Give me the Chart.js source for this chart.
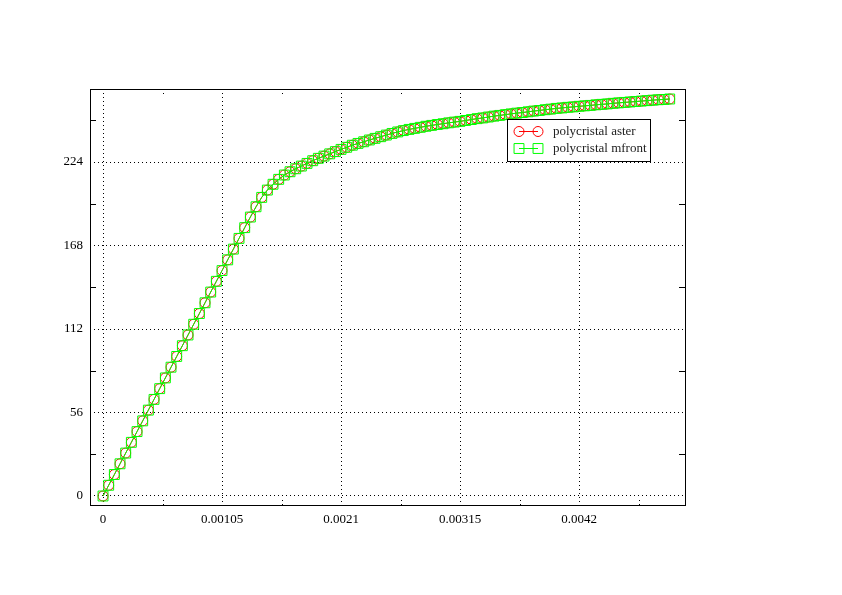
<!DOCTYPE html>
<html>
<head>
<meta charset="utf-8">
<script src="https://cdn.jsdelivr.net/npm/chart.js@4"></script>
<style>
  html, body { margin: 0; padding: 0; background: #ffffff; }
  #wrap { width: 842px; height: 595px; }
</style>
</head>
<body>
<div id="wrap"><canvas id="grafico" width="842" height="595"></canvas></div>
<script>
const strain = [
    0, 0.00005, 0.0001, 0.00015, 0.0002, 0.00025, 0.0003, 0.00035, 0.0004, 0.00045,
    0.0005, 0.00055, 0.0006, 0.00065, 0.0007, 0.00075, 0.0008, 0.00085, 0.0009, 0.00095,
    0.001, 0.00105, 0.0011, 0.00115, 0.0012, 0.00125, 0.0013, 0.00135, 0.0014, 0.00145,
    0.0015, 0.00155, 0.0016, 0.00165, 0.0017, 0.00175, 0.0018, 0.00185, 0.0019, 0.00195,
    0.002, 0.00205, 0.0021, 0.00215, 0.0022, 0.00225, 0.0023, 0.00235, 0.0024, 0.00245,
    0.0025, 0.00255, 0.0026, 0.00265, 0.0027, 0.00275, 0.0028, 0.00285, 0.0029, 0.00295,
    0.003, 0.00305, 0.0031, 0.00315, 0.0032, 0.00325, 0.0033, 0.00335, 0.0034, 0.00345,
    0.0035, 0.00355, 0.0036, 0.00365, 0.0037, 0.00375, 0.0038, 0.00385, 0.0039, 0.00395,
    0.004, 0.00405, 0.0041, 0.00415, 0.0042, 0.00425, 0.0043, 0.00435, 0.0044, 0.00445,
    0.0045, 0.00455, 0.0046, 0.00465, 0.0047, 0.00475, 0.0048, 0.00485, 0.0049, 0.00495,
    0.005
];

const stressAster = [
    0, 7.2, 14.4, 21.6, 28.8, 36.0, 43.2, 50.4, 57.6, 64.8,
    72.0, 79.2, 86.4, 93.6, 100.8, 108.0, 115.2, 122.4, 129.6, 136.8,
    144.0, 151.2, 158.4, 165.6, 172.8, 180.0, 187.1, 194.0, 200.3, 205.2,
    209.1, 212.4, 215.3, 217.5, 219.5, 221.3, 223.1, 224.9, 226.5, 228.0,
    229.5, 231.0, 232.5, 233.9, 235.3, 236.5, 237.6, 238.8, 239.9, 241.0,
    242.1, 243.2, 244.2, 245.1, 245.9, 246.6, 247.3, 248.0, 248.6, 249.2,
    249.7, 250.3, 250.8, 251.3, 251.9, 252.5, 253.1, 253.6, 254.2, 254.8,
    255.3, 255.8, 256.3, 256.8, 257.2, 257.7, 258.2, 258.6, 259.1, 259.5,
    260.0, 260.3, 260.7, 261.0, 261.4, 261.7, 262.0, 262.4, 262.7, 263.0,
    263.4, 263.7, 264.0, 264.3, 264.6, 264.9, 265.2, 265.5, 265.8, 266.0,
    266.3
];

const stressMfront = [
    0, 7.2, 14.4, 21.6, 28.8, 36.0, 43.2, 50.4, 57.6, 64.8,
    72.0, 79.2, 86.4, 93.6, 100.8, 108.0, 115.2, 122.4, 129.6, 136.8,
    144.0, 151.2, 158.4, 165.6, 172.8, 180.0, 187.1, 194.0, 200.3, 205.2,
    209.1, 212.4, 215.3, 217.5, 219.5, 221.3, 223.1, 224.9, 226.5, 228.0,
    229.5, 231.0, 232.5, 233.9, 235.3, 236.5, 237.6, 238.8, 239.9, 241.0,
    242.1, 243.2, 244.2, 245.1, 245.9, 246.6, 247.3, 248.0, 248.6, 249.2,
    249.7, 250.3, 250.8, 251.3, 251.9, 252.5, 253.1, 253.6, 254.2, 254.8,
    255.3, 255.8, 256.3, 256.8, 257.2, 257.7, 258.2, 258.6, 259.1, 259.5,
    260.0, 260.3, 260.7, 261.0, 261.4, 261.7, 262.0, 262.4, 262.7, 263.0,
    263.4, 263.7, 264.0, 264.3, 264.6, 264.9, 265.2, 265.5, 265.8, 266.0,
    266.3
];

const xTicks = [0, 0.00105, 0.0021, 0.00315, 0.0042];
const xTickLabels = ['0', '0.00105', '0.0021', '0.00315', '0.0042'];
const xMinorTicks = [0.000525, 0.001575, 0.002625, 0.003675, 0.004725];
const yTicks = [0, 56, 112, 168, 224];
const yTickLabels = ['0', '56', '112', '168', '224'];
const yMinorTicks = [28, 84, 140, 196, 252];
const seriesNames = ['polycristal aster', 'polycristal mfront'];

const FONT = 'Liberation Serif';

// cadre, petites graduations et legende
const cadrePlugin = {
    id: 'cadre',
    afterDraw(chart) {
        const ctx = chart.ctx;
        const a = chart.chartArea;
        const xs = chart.scales.x;
        const ys = chart.scales.y;
        ctx.save();
        ctx.strokeStyle = '#000000';
        ctx.lineWidth = 1;

        // graduations mineures x (pointillees)
        ctx.setLineDash([1, 3]);
        xMinorTicks.forEach(function (v) {
            const px = Math.round(xs.getPixelForValue(v)) + 0.5;
            ctx.beginPath();
            ctx.moveTo(px, a.bottom); ctx.lineTo(px, a.bottom - 7);
            ctx.moveTo(px, a.top); ctx.lineTo(px, a.top + 7);
            ctx.stroke();
        });
        // graduations mineures y (pleines)
        ctx.setLineDash([]);
        yMinorTicks.forEach(function (v) {
            const py = Math.round(ys.getPixelForValue(v)) + 0.5;
            ctx.beginPath();
            ctx.moveTo(a.left, py); ctx.lineTo(a.left + 6, py);
            ctx.moveTo(a.right, py); ctx.lineTo(a.right - 6, py);
            ctx.stroke();
        });

        // cadre
        ctx.strokeRect(Math.round(a.left) + 0.5, Math.round(a.top) + 0.5,
            Math.round(a.right - a.left), Math.round(a.bottom - a.top));

        // legende
        const lx = 507, ly = 119, lw = 143, lh = 42;
        ctx.fillStyle = '#ffffff';
        ctx.fillRect(lx, ly, lw, lh);
        ctx.strokeRect(lx + 0.5, ly + 0.5, lw, lh);
        const rows = [ly + 12, ly + 29];
        chart.data.datasets.forEach(function (ds, i) {
            const y = rows[i];
            ctx.strokeStyle = ds.borderColor;
            ctx.lineWidth = 1;
            ctx.beginPath();
            ctx.moveTo(519, y + 0.5); ctx.lineTo(538, y + 0.5);
            ctx.stroke();
            ctx.fillStyle = 'rgba(0,0,0,0)';
            [519, 538].forEach(function (cx) {
                Chart.helpers.drawPoint(ctx, {
                    pointStyle: ds.pointStyle,
                    radius: ds.pointRadius,
                    borderWidth: 1
                }, cx, y + 0.5);
            });
            ctx.fillStyle = '#222222';
            ctx.font = '13px "' + FONT + '"';
            ctx.textBaseline = 'middle';
            ctx.textAlign = 'left';
            ctx.fillText(ds.label, 553, y + 1);
        });
        ctx.restore();
    }
};

const ctx = document.getElementById('grafico').getContext('2d');

new Chart(ctx, {
    type: 'line',
    data: {
        datasets: [
            {
                label: seriesNames[0],
                data: strain.map(function (x, i) { return { x: x, y: stressAster[i] }; }),
                borderColor: '#ff0000',
                backgroundColor: 'rgba(0,0,0,0)',
                borderWidth: 1,
                pointStyle: 'circle',
                pointRadius: 5,
                pointBorderWidth: 1,
                pointBorderColor: '#ff0000',
                pointBackgroundColor: 'rgba(0,0,0,0)',
                tension: 0,
                order: 2
            },
            {
                label: seriesNames[1],
                data: strain.map(function (x, i) { return { x: x, y: stressMfront[i] }; }),
                borderColor: '#00ff00',
                backgroundColor: 'rgba(0,0,0,0)',
                borderWidth: 1,
                pointStyle: 'rect',
                pointRadius: 7,
                pointBorderWidth: 1,
                pointBorderColor: '#00ff00',
                pointBackgroundColor: 'rgba(0,0,0,0)',
                tension: 0,
                order: 1
            }
        ]
    },
    options: {
        responsive: false,
        animation: false,
        events: [],
        layout: {
            padding: { top: 89, right: 157, left: 0, bottom: 0 }
        },
        scales: {
            x: {
                type: 'linear',
                min: -0.000115,
                max: 0.005135,
                afterBuildTicks: function (scale) {
                    scale.ticks = xTicks.map(function (v) { return { value: v }; });
                },
                afterFit: function (scale) { scale.height = 90; },
                grid: { color: '#000000', lineWidth: 1, drawTicks: false },
                border: { display: false, dash: [1, 3] },
                ticks: {
                    color: '#000000',
                    padding: 7,
                    maxRotation: 0,
                    font: { family: FONT, size: 13 },
                    callback: function (v) {
                        const i = xTicks.indexOf(v);
                        return i >= 0 ? xTickLabels[i] : '';
                    }
                }
            },
            y: {
                type: 'linear',
                min: -6.04,
                max: 273,
                afterBuildTicks: function (scale) {
                    scale.ticks = yTicks.map(function (v) { return { value: v }; });
                },
                afterFit: function (scale) { scale.width = 90; },
                grid: { color: '#000000', lineWidth: 1, drawTicks: false },
                border: { display: false, dash: [1, 3] },
                ticks: {
                    color: '#000000',
                    padding: 7,
                    font: { family: FONT, size: 13 },
                    callback: function (v) {
                        const i = yTicks.indexOf(v);
                        return i >= 0 ? yTickLabels[i] : '';
                    }
                }
            }
        },
        plugins: {
            legend: { display: false },
            tooltip: { enabled: false },
            title: { display: false }
        }
    },
    plugins: [cadrePlugin]
});
</script>
</body>
</html>
